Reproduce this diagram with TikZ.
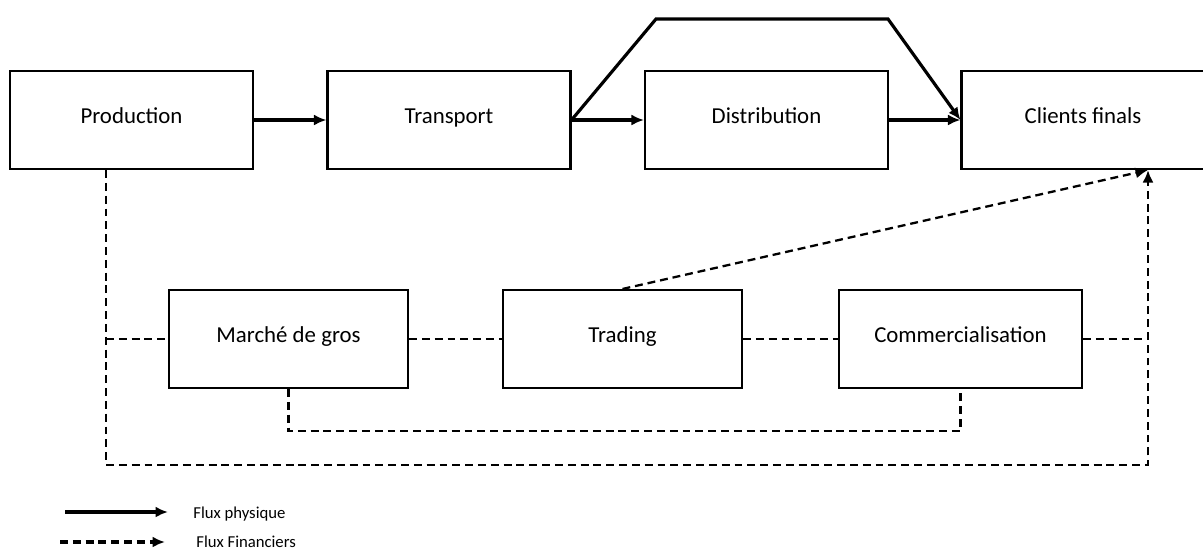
\documentclass[tikz,border=0pt]{standalone}
\usepackage{fontspec}
\setmainfont{Carlito}
\usetikzlibrary{positioning, arrows.meta, calc}

\begin{document}
\begin{tikzpicture}[x=0.02cm, y=-0.02cm,
    box/.style={draw, line width=1.2pt, minimum width=4.86cm, minimum height=1.96cm, inner sep=0pt,
                text height=0.7em, text depth=0.35em, font=\fontsize{13}{15}\selectfont},
    phys/.style={line width=1.8pt, -{Latex[length=2.5mm, width=2.2mm]}},
    fin/.style={line width=1.3pt, dash pattern=on 4.5pt off 2.8pt, -{Latex[length=2.5mm, width=2.2mm]}},
    finline/.style={line width=1.3pt, dash pattern=on 4.5pt off 2.8pt},
    legend/.style={anchor=west, inner sep=0pt, font=\fontsize{9.5}{11}\selectfont}]
        \clip (0,0) rectangle (1203,552);

        % Upper row
        \node[box] (prod) at (131.5,120) {Production};
        \node[box] (trans) at (449,120) {Transport};
        \node[box] (dist) at (766.5,120) {Distribution};
        \node[box] (client) at (1083,120) {Clients finals};

        % Lower row
        \node[box, minimum width=4.78cm] (marche) at (288.5,339) {Marché de gros};
        \node[box, minimum width=4.78cm] (trading) at (622.5,339) {Trading};
        \node[box] (comm) at (960.5,339) {Commercialisation};

        % Helper points
        \coordinate (ta) at (656,19);
        \coordinate (tb) at (888,19);
        \coordinate (lx) at (106,465);
        \coordinate (rx) at (1148,465);

        % Physical flows
        \draw[phys] (prod) -- (trans);
        \draw[phys] (trans) -- (dist);
        \draw[phys] (dist) -- (client);
        \draw[phys] (trans.east) -- (ta) -- (tb) -- (client.west);

        % Financial flows
        \draw[fin] (prod.south -| lx) -- (lx) -- (rx) -- (client.south -| rx);
        \draw[fin] (trading.north) -- (client.south -| rx);
        \draw[finline] (lx |- marche) -- (marche.west);
        \draw[finline] (marche) -- (trading);
        \draw[finline] (trading) -- (comm);
        \draw[finline] (comm.east) -- (rx |- comm);
        \draw[finline] (marche.south) -- ++(0,42) -| (comm.south);

        % Legend
        \coordinate (lpa) at (65,512);
        \coordinate (lpb) at (168,512);
        \coordinate (lfa) at (60,542);
        \coordinate (lfb) at (165,542);
        \draw[phys] (lpa) -- (lpb);
        \draw[fin, line width=1.8pt] (lfa) -- (lfb);
        \node[legend] (lphys) at (193,514) {Flux physique};
        \node[legend] (lfin) at (196,542) {Flux Financiers};
\end{tikzpicture}
\end{document}
